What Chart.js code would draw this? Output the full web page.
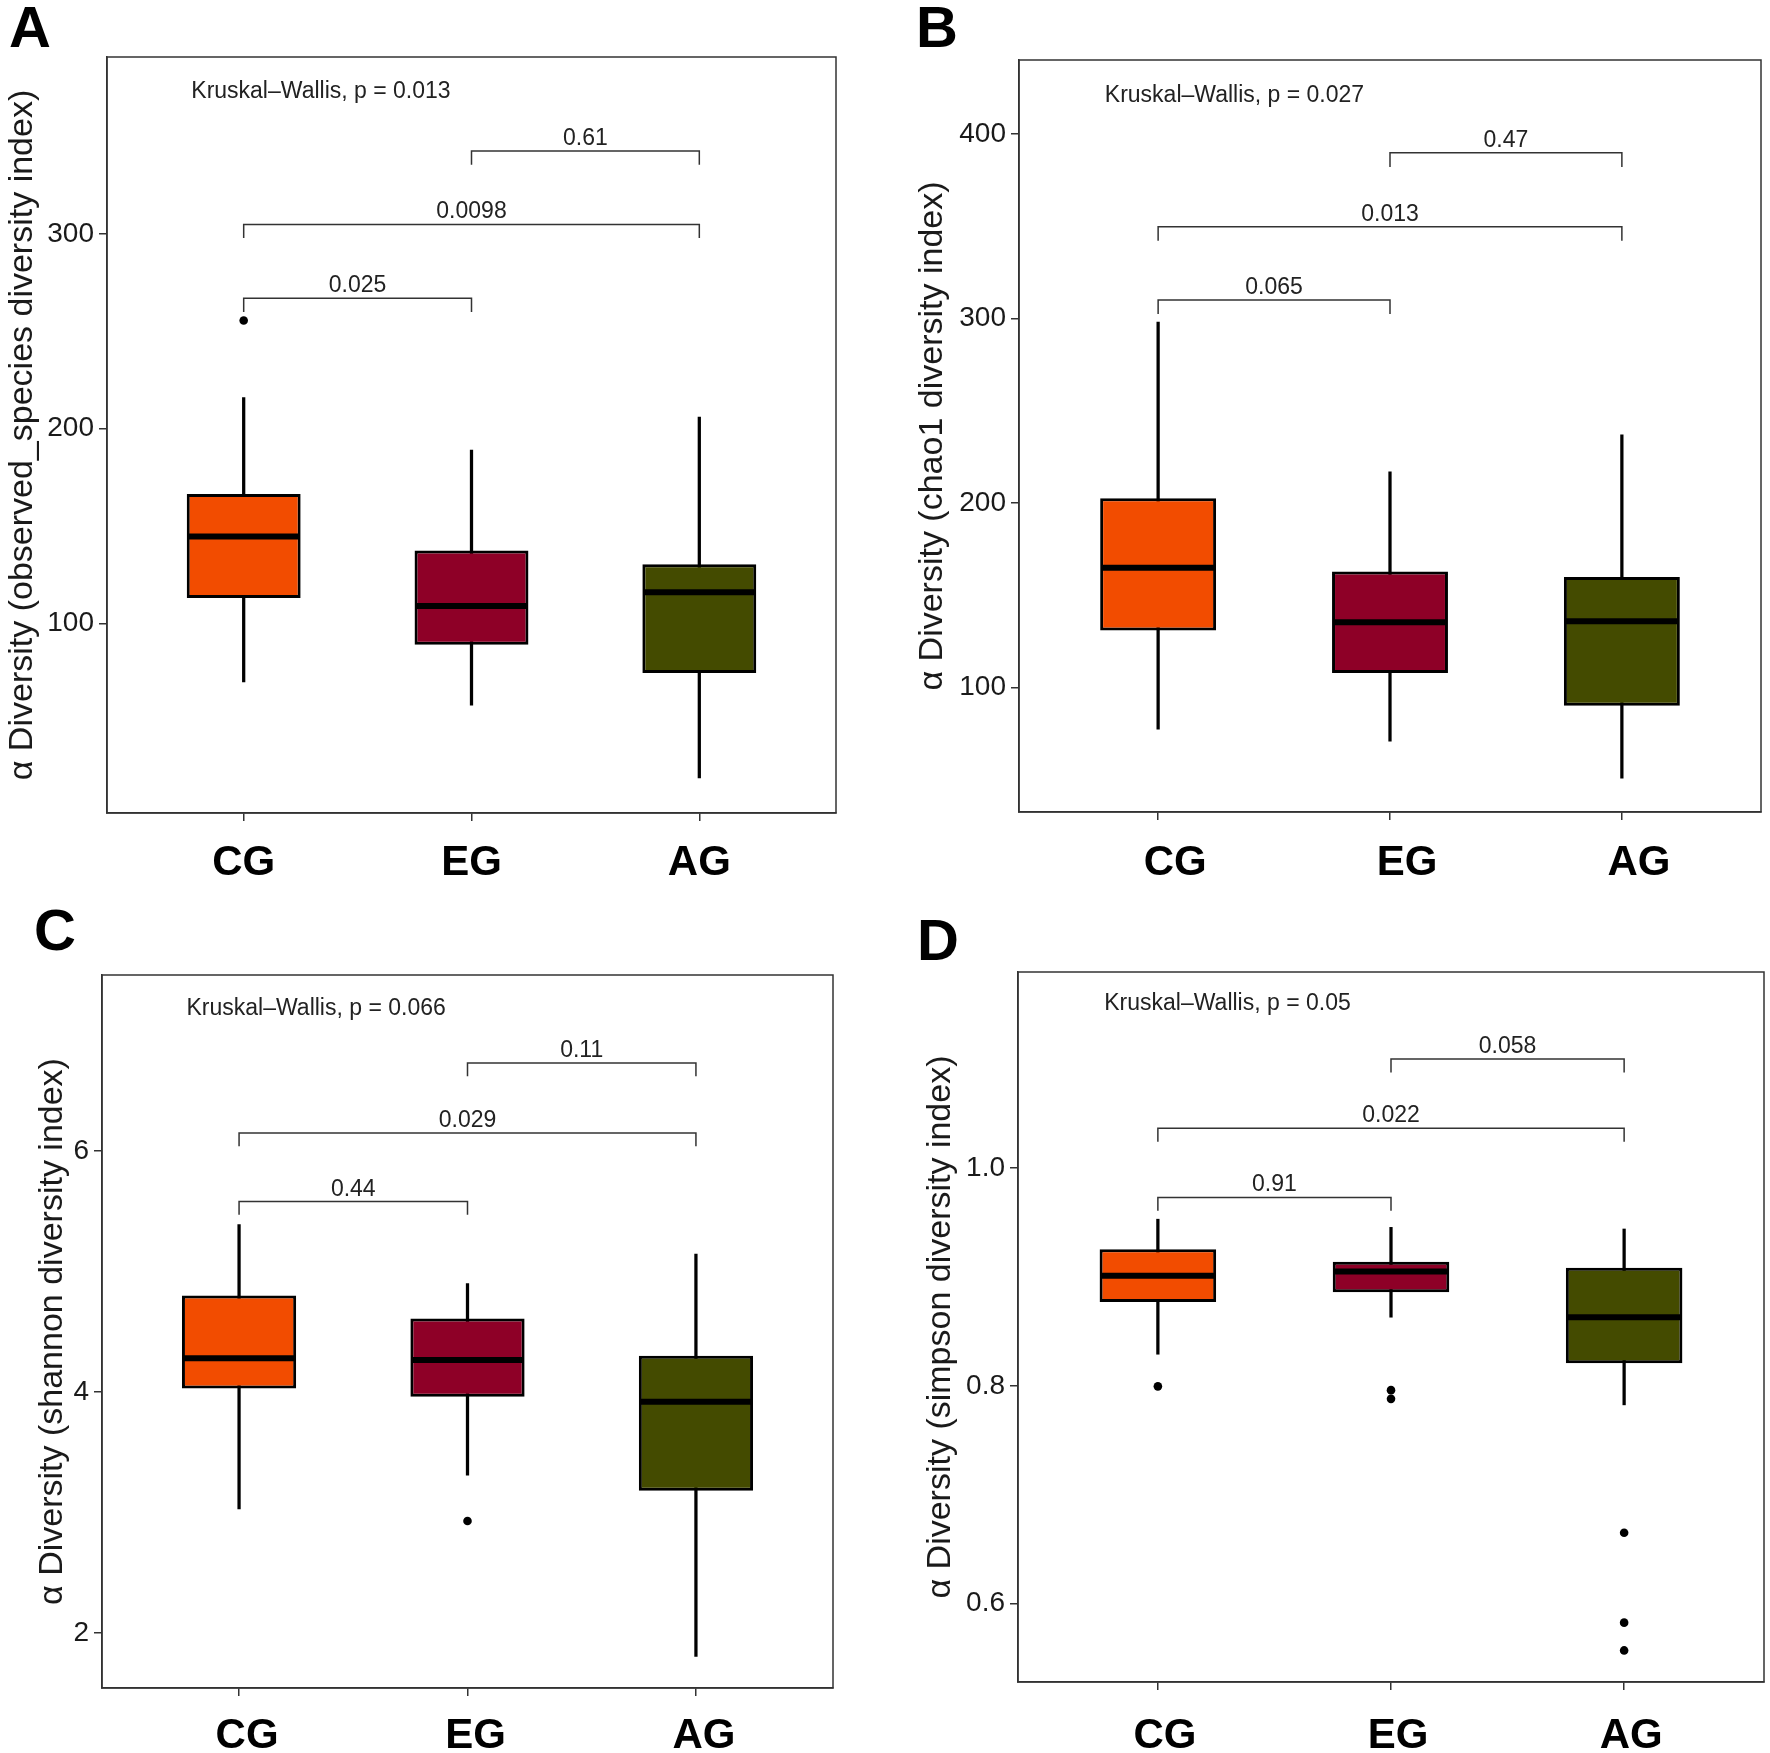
<!DOCTYPE html>
<html>
<head>
<meta charset="utf-8">
<script src="https://cdn.jsdelivr.net/npm/chart.js@4/dist/chart.umd.min.js"></script>
<style>
  html, body { margin: 0; padding: 0; background: #fff; }
  #page { position: relative; width: 1770px; height: 1753px; overflow: hidden; }
  .panel { position: absolute; }
  canvas { display: block; }
</style>
</head>
<body>
<div id="page">
  <div class="panel" style="left:0px;top:0px"><canvas id="chart_a" width="885" height="876"></canvas></div>
  <div class="panel" style="left:885px;top:0px"><canvas id="chart_b" width="885" height="876"></canvas></div>
  <div class="panel" style="left:0px;top:876px"><canvas id="chart_c" width="885" height="877"></canvas></div>
  <div class="panel" style="left:885px;top:876px"><canvas id="chart_d" width="885" height="877"></canvas></div>
</div>
<script>
const groups = ['CG', 'EG', 'AG']
const boxColors = ['#F24C00', '#8E0027', '#444B00']
const bracketPairs = [[1, 2], [1, 3], [2, 3]]

// A: observed_species
const obsLow = [70, 58, 20.6]
const obsQ1 = [113, 89, 74.5]
const obsMedian = [144.7, 109, 116]
const obsQ3 = [166.5, 137.5, 130.4]
const obsHigh = [216, 189, 206]
const obsOutliers = [[255.6], [], []]
const obsBracketY = [267, 305, 342.7]
const obsPValues = ['0.025', '0.0098', '0.61']
const obsTicks = [100, 200, 300]

// B: chao1
const chaoLow = [77.6, 71, 51]
const chaoQ1 = [131, 108, 90.3]
const chaoMedian = [165, 135.5, 136]
const chaoQ3 = [202.7, 163, 160]
const chaoHigh = [298, 217, 237]
const chaoOutliers = [[], [], []]
const chaoBracketY = [310, 349.7, 389.7]
const chaoPValues = ['0.065', '0.013', '0.47']
const chaoTicks = [100, 200, 300, 400]

// C: shannon
const shanLow = [3.03, 3.31, 1.805]
const shanQ1 = [4.03, 3.96, 3.18]
const shanMedian = [4.28, 4.265, 3.92]
const shanQ3 = [4.8, 4.61, 4.3]
const shanHigh = [5.39, 4.9, 5.144]
const shanOutliers = [[], [2.93], []]
const shanBracketY = [5.58, 6.15, 6.73]
const shanPValues = ['0.44', '0.029', '0.11']
const shanTicks = [2, 4, 6]

// D: simpson
const simpLow = [0.829, 0.863, 0.7825]
const simpQ1 = [0.877, 0.886, 0.8206]
const simpMedian = [0.901, 0.905, 0.863]
const simpQ3 = [0.9255, 0.914, 0.9085]
const simpHigh = [0.953, 0.9455, 0.944]
const simpOutliers = [[0.7995], [0.796, 0.788], [0.665, 0.5825, 0.557]]
const simpBracketY = [0.973, 1.0365, 1.1]
const simpPValues = ['0.91', '0.022', '0.058']
const simpTicks = [0.6, 0.8, 1.0]

const FONT = '"Liberation Sans", Arial, Helvetica, sans-serif'

const panelDecor = {
  id: 'panelDecor',
  afterDatasetsDraw(chart, args, opts) {
    const { ctx, chartArea, scales } = chart
    ctx.save()
    ctx.fillStyle = '#222'
    ctx.font = '23px ' + FONT
    ctx.textAlign = 'center'
    ctx.textBaseline = 'alphabetic'
    opts.pValues.forEach((p, i) => {
      const [a, b] = bracketPairs[i]
      ctx.fillText(p, scales.x.getPixelForValue((a + b) / 2), scales.y.getPixelForValue(opts.bracketY[i]) - 6)
    })
    ctx.textAlign = 'left'
    ctx.textBaseline = 'middle'
    ctx.fillText(opts.kw, scales.x.getPixelForValue(0.77), scales.y.getPixelForValue(opts.kwY))

    ctx.strokeStyle = '#333'
    ctx.lineWidth = 1.5
    ctx.strokeRect(chartArea.left, chartArea.top, chartArea.right - chartArea.left, chartArea.bottom - chartArea.top)

    ctx.fillStyle = '#000'
    ctx.font = 'bold 58px ' + FONT
    ctx.textBaseline = 'alphabetic'
    ctx.fillText(opts.tag, opts.tagX, opts.tagY)
    ctx.restore()
  },
}

function make_box_chart(id, p) {
  let datasets = []
  // whiskers
  datasets.push({
    type: 'bar',
    data: groups.map((g, i) => ({ x: i + 1, y: [p.low[i], p.high[i]] })),
    backgroundColor: '#000',
    borderWidth: 0,
    barThickness: 2.6,
    grouped: false,
    order: 5,
  })
  // boxes
  datasets.push({
    type: 'bar',
    data: groups.map((g, i) => ({ x: i + 1, y: [p.q1[i], p.q3[i]] })),
    backgroundColor: boxColors,
    borderColor: '#000',
    borderWidth: 3,
    borderSkipped: false,
    barPercentage: 0.5,
    categoryPercentage: 1,
    grouped: false,
    order: 4,
  })
  // medians
  datasets.push({
    type: 'line',
    data: groups.map((g, i) => ({ x: i + 1, y: p.median[i] })),
    showLine: false,
    pointStyle: 'line',
    pointRadius: (c) => c.chart.scales.x.getPixelForValue(1.245) - c.chart.scales.x.getPixelForValue(1),
    pointBorderColor: '#000',
    pointBorderWidth: 6,
    order: 3,
  })
  // outliers
  let outPts = []
  p.outliers.forEach((list, i) => list.forEach((v) => outPts.push({ x: i + 1, y: v })))
  datasets.push({
    type: 'line',
    data: outPts,
    showLine: false,
    pointRadius: 4.3,
    pointBackgroundColor: '#000',
    pointBorderWidth: 0,
    order: 2,
  })
  // comparison brackets
  bracketPairs.forEach(([a, b], i) => {
    const h = p.bracketY[i]
    datasets.push({
      type: 'line',
      data: [
        { x: a, y: h - p.drop },
        { x: a, y: h },
        { x: b, y: h },
        { x: b, y: h - p.drop },
      ],
      borderColor: '#333',
      borderWidth: 1.5,
      pointRadius: 0,
      tension: 0,
      order: 1,
    })
  })

  let config = {
    type: 'bar',
    data: { datasets: datasets },
    options: {
      responsive: false,
      animation: false,
      events: [],
      layout: { padding: { top: p.area.top, right: p.area.right, left: 0, bottom: 0 } },
      plugins: {
        legend: { display: false },
        tooltip: { enabled: false },
        panelDecor: {
          pValues: p.pValues,
          bracketY: p.bracketY,
          kw: p.kw,
          kwY: p.kwY,
          tag: p.tag,
          tagX: p.tagX,
          tagY: p.tagY,
        },
      },
      scales: {
        x: {
          type: 'linear',
          min: 0.4,
          max: 3.6,
          offset: false,
          afterBuildTicks: (s) => {
            s.ticks = groups.map((g, i) => ({ value: i + 1 }))
          },
          afterFit: (s) => {
            s.height = p.area.xHeight
          },
          grid: { display: true, offset: false, drawOnChartArea: false, drawTicks: true, tickLength: 8, color: '#333', lineWidth: 1.5 },
          border: { display: true, color: '#333', width: 1.5 },
          ticks: {
            autoSkip: false,
            maxRotation: 0,
            color: '#000',
            font: { family: FONT, size: 42, weight: 'bold' },
            padding: p.xPad,
            labelOffset: p.xShift,
            callback: (v) => groups[Math.round(v) - 1],
          },
        },
        y: {
          type: 'linear',
          min: p.min,
          max: p.max,
          afterBuildTicks: (s) => {
            s.ticks = p.ticks.map((v) => ({ value: v }))
          },
          afterFit: (s) => {
            s.width = p.area.left
          },
          grid: { display: true, drawOnChartArea: false, drawTicks: true, tickLength: 8, color: '#333', lineWidth: 1.5 },
          border: { display: true, color: '#333', width: 1.5 },
          ticks: {
            color: '#1a1a1a',
            font: { family: FONT, size: 28 },
            padding: 5,
            callback: (v) => v.toFixed(p.decimals),
          },
          title: {
            display: true,
            text: p.title,
            color: '#1a1a1a',
            font: { family: FONT, size: 34 },
            padding: { top: p.titlePad, bottom: 0 },
          },
        },
      },
    },
    plugins: [panelDecor],
  }
  return new Chart(document.getElementById(id), config)
}

make_box_chart('chart_a', {
  low: obsLow, q1: obsQ1, median: obsMedian, q3: obsQ3, high: obsHigh, outliers: obsOutliers,
  bracketY: obsBracketY, pValues: obsPValues, drop: 7,
  kw: 'Kruskal\u2013Wallis, p = 0.013', kwY: 373,
  min: 2.6, max: 391, ticks: obsTicks, decimals: 0,
  title: '\u03b1 Diversity (observed_species diversity index)', titlePad: 2,
  area: { left: 107, top: 57, right: 49, xHeight: 63 },
  xPad: 17, xShift: 0,
  tag: 'A', tagX: 9, tagY: 47,
})

make_box_chart('chart_b', {
  low: chaoLow, q1: chaoQ1, median: chaoMedian, q3: chaoQ3, high: chaoHigh, outliers: chaoOutliers,
  bracketY: chaoBracketY, pValues: chaoPValues, drop: 7.6,
  kw: 'Kruskal\u2013Wallis, p = 0.027', kwY: 420.6,
  min: 32.7, max: 440, ticks: chaoTicks, decimals: 0,
  title: '\u03b1 Diversity (chao1 diversity index)', titlePad: 27,
  area: { left: 134, top: 60, right: 9, xHeight: 64 },
  xPad: 18, xShift: 17,
  tag: 'B', tagX: 31, tagY: 47,
})

make_box_chart('chart_c', {
  low: shanLow, q1: shanQ1, median: shanMedian, q3: shanQ3, high: shanHigh, outliers: shanOutliers,
  bracketY: shanBracketY, pValues: shanPValues, drop: 0.11,
  kw: 'Kruskal\u2013Wallis, p = 0.066', kwY: 7.18,
  min: 1.544, max: 7.46, ticks: shanTicks, decimals: 0,
  title: '\u03b1 Diversity (shannon diversity index)', titlePad: 32,
  area: { left: 102, top: 99, right: 52, xHeight: 65 },
  xPad: 15, xShift: 8,
  tag: 'C', tagX: 34, tagY: 74,
})

make_box_chart('chart_d', {
  low: simpLow, q1: simpQ1, median: simpMedian, q3: simpQ3, high: simpHigh, outliers: simpOutliers,
  bracketY: simpBracketY, pValues: simpPValues, drop: 0.0123,
  kw: 'Kruskal\u2013Wallis, p = 0.05', kwY: 1.1506,
  min: 0.528, max: 1.18, ticks: simpTicks, decimals: 1,
  title: '\u03b1 Diversity (simpson diversity index)', titlePad: 35,
  area: { left: 133, top: 96, right: 6, xHeight: 71 },
  xPad: 21, xShift: 7,
  tag: 'D', tagX: 32, tagY: 84,
})
</script>
</body>
</html>
